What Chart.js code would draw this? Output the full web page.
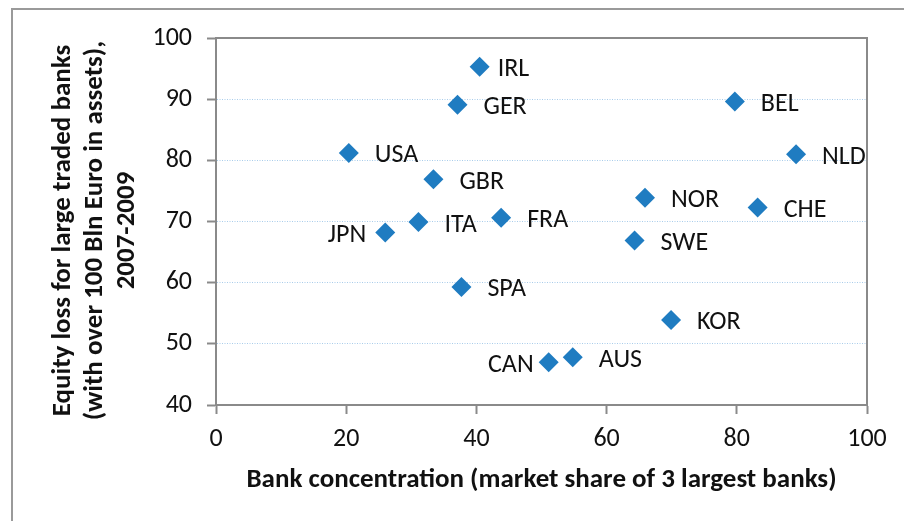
<!DOCTYPE html>
<html><head><meta charset="utf-8">
<script src="https://cdn.jsdelivr.net/npm/chart.js@4"></script>
<style>html,body{margin:0;padding:0;background:#fff}#wrap{width:904px;height:521px}</style>
</head><body><div id="wrap"><canvas id="c" width="904" height="521"></canvas></div>
<script>
const countries = ['IRL','GER','USA','GBR','ITA','JPN','FRA','BEL','NLD','NOR','CHE','SWE','SPA','CAN','AUS','KOR'];
const concentration = [40.5,37.1,20.4,33.4,31.1,26.0,43.8,79.7,89.1,65.9,83.2,64.3,37.7,51.1,54.8,69.9];
const equityLoss = [95.3,89.1,81.2,76.9,69.9,68.2,70.6,89.6,81.0,73.9,72.3,66.9,59.3,47.0,47.8,53.9];
const xTickValues = [0,20,40,60,80,100];
const yTickValues = [40,50,60,70,80,90,100];
const xTitle = 'Bank concentration (market share of 3 largest banks)';
const yTitle = ['Equity loss for large traded banks','(with over 100 Bln Euro in assets),','2007-2009'];

const FONT = 'Carlito, Calibri, Lato, sans-serif';
const AXIS = '#8a8a8a';
const labelOffset = {IRL: 18, JPN: -19, CAN: -15};

const frame = {
  id: 'frame',
  beforeDraw(chart) {
    const ctx = chart.ctx;
    ctx.save();
    ctx.strokeStyle = '#9a9a9a'; ctx.lineWidth = 2;
    ctx.strokeRect(12, 9, 1000, 1000);
    ctx.restore();
  },
  beforeDatasetsDraw(chart) {
    const ctx = chart.ctx, a = chart.chartArea;
    ctx.save();
    ctx.strokeStyle = AXIS; ctx.lineWidth = 2;
    ctx.beginPath();
    ctx.moveTo(a.left, a.top); ctx.lineTo(a.right, a.top); ctx.lineTo(a.right, a.bottom);
    ctx.stroke();
    ctx.restore();
  },
  afterDraw(chart) {
    // y-axis title (three rotated lines)
    const ctx = chart.ctx, a = chart.chartArea;
    const cy = (a.top + a.bottom) / 2 + 9;
    ctx.save();
    ctx.font = 'bold 27px ' + FONT;
    ctx.fillStyle = '#111';
    ctx.textAlign = 'center';
    ctx.textBaseline = 'middle';
    yTitle.forEach((line, i) => {
      ctx.save();
      ctx.translate(63 + i * 32, cy);
      ctx.rotate(-Math.PI / 2);
      ctx.fillText(line, 0, 0);
      ctx.restore();
    });
    ctx.restore();
  }
};
const pointLabels = {
  id: 'pointLabels',
  afterDatasetsDraw(chart) {
    const ctx = chart.ctx;
    const meta = chart.getDatasetMeta(0);
    ctx.save();
    ctx.font = '26px ' + FONT;
    ctx.fillStyle = '#111';
    ctx.textBaseline = 'middle';
    meta.data.forEach((el, i) => {
      const name = countries[i];
      const dx = labelOffset[name] !== undefined ? labelOffset[name] : 26;
      ctx.textAlign = dx < 0 ? 'right' : 'left';
      ctx.fillText(name, el.x + dx, el.y + 3);
    });
    ctx.restore();
  }
};

new Chart(document.getElementById('c'), {
  type: 'scatter',
  data: {
    datasets: [{
      data: concentration.map((x, i) => ({x: x, y: equityLoss[i]})),
      pointStyle: 'rectRot',
      pointRadius: 10,
      pointHoverRadius: 10,
      backgroundColor: '#1F7CC1',
      borderColor: '#1F7CC1',
      borderWidth: 0
    }]
  },
  options: {
    responsive: false,
    animation: false,
    devicePixelRatio: 1,
    layout: {padding: {top: 38, right: 37, left: 0, bottom: 0}},
    plugins: {legend: {display: false}, tooltip: {enabled: false}},
    scales: {
      x: {
        type: 'linear', min: 0, max: 100,
        afterBuildTicks: s => { s.ticks = xTickValues.map(v => ({value: v})); },
        afterFit: s => { s.height = 116; },
        ticks: {font: {family: FONT, size: 26}, color: '#111', padding: 10},
        grid: {drawOnChartArea: false, drawTicks: true, tickLength: 9, tickColor: AXIS, tickWidth: 2},
        border: {color: AXIS, width: 2},
        title: {display: true, text: xTitle, color: '#111', font: {family: FONT, size: 27, weight: 'bold'}, padding: {top: 0, bottom: 25}}
      },
      y: {
        type: 'linear', min: 40, max: 100,
        afterBuildTicks: s => { s.ticks = yTickValues.map(v => ({value: v})); },
        afterFit: s => { s.width = 216; },
        ticks: {font: {family: FONT, size: 26}, color: '#111', padding: 15},
        grid: {
          color: c => (c.tick && (c.tick.value === 40 || c.tick.value === 100)) ? 'rgba(0,0,0,0)' : '#A9CCEA',
          lineWidth: 1, tickLength: 9, tickColor: AXIS, tickWidth: 2
        },
        border: {color: AXIS, width: 2, dash: [1, 1.5]},
        title: {display: false}
      }
    }
  },
  plugins: [frame, pointLabels]
});
</script>
</body></html>
